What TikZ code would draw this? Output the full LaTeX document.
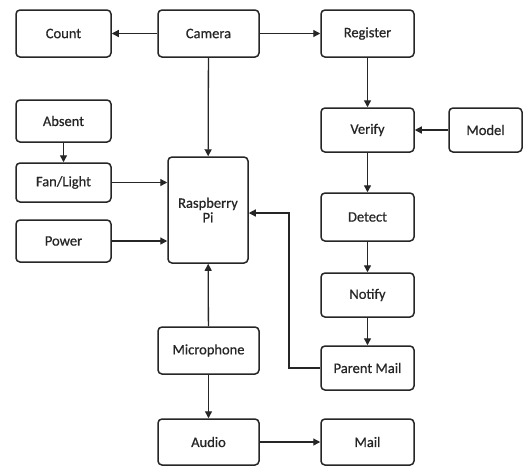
\documentclass[tikz,border=0pt]{standalone}
\usepackage{fontspec}
\setmainfont{Carlito}[FakeBold=0.6,BoldFont=Carlito]
\usetikzlibrary{arrows.meta}
\begin{document}
\begin{tikzpicture}[x=1pt,y=-1pt,
  box/.style={draw=black!85, line width=1.5pt, rounded corners=4pt, font=\fontsize{14.5}{15.5}\selectfont\bfseries, text=black!85, align=center, inner sep=0pt},
  arr/.style={draw=black!85, -{Triangle[length=7pt,width=7pt]}, line width=1.3pt}]
\useasboundingbox (0,0) rectangle (526,467);
\fill[white] (0,0) rectangle (526,467);
\newcommand{\bx}[6]{\node[box, minimum width=#3pt, minimum height=#4pt] (#5) at (#1,#2) {#6};}
\bx{63.5}{33.5}{95}{47}{count}{Count}
\bx{208.5}{33.5}{101}{47}{camera}{Camera}
\bx{367.5}{33.5}{93}{47}{register}{Register}
\bx{63.5}{121}{95}{42}{absent}{Absent}
\bx{367.5}{130}{93}{44}{verify}{Verify}
\bx{485.5}{130}{73}{44}{model}{Model}
\bx{63.5}{182.5}{95}{39}{fan}{Fan/Light}
\bx{208}{210}{80}{106}{rpi}{Raspberry\\[-1pt]Pi}
\bx{63.5}{241}{95}{42}{power}{Power}
\bx{367.5}{217}{93}{48}{detect}{Detect}
\bx{367.5}{295}{93}{44}{notify}{Notify}
\bx{208.5}{350.5}{101}{47}{mic}{Microphone}
\bx{367.5}{368}{93}{44}{parent}{Parent Mail}
\bx{208.5}{442}{101}{46}{audio}{Audio}
\bx{367.5}{442}{93}{46}{mail}{Mail}
\draw[arr] (camera) -- (count);
\draw[arr] (camera) -- (register);
\draw[arr] (camera) -- (rpi);
\draw[arr] (register) -- (verify);
\draw[arr] (model) -- (verify);
\draw[arr] (verify) -- (detect);
\draw[arr] (detect) -- (notify);
\draw[arr] (notify) -- (parent);
\draw[arr] (absent) -- (fan);
\draw[arr] (fan.east) -- (fan.east -| rpi.west);
\draw[arr] (power.east) -- (power.east -| rpi.west);
\draw[arr] (mic) -- (rpi);
\draw[arr] (mic) -- (audio);
\draw[arr] (audio) -- (mail);
\coordinate (pm) at (289,368);
\draw[arr] (parent.west) -- (pm) |- ([yshift=-3pt]rpi.east);
\end{tikzpicture}
\end{document}
